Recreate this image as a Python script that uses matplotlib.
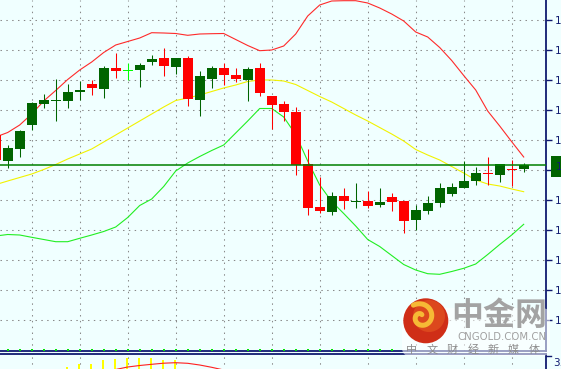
import matplotlib
matplotlib.use("Agg")
import matplotlib.pyplot as plt
import numpy as np
from matplotlib.patches import Rectangle, Circle, FancyBboxPatch
from matplotlib.transforms import blended_transform_factory

# Velas (índice -1 .. 43)
idx = np.arange(-1, 44)
opens = [1835, 1809.3, 1821.3, 1845.3, 1866.3, 1869, 1869.3, 1878, 1885.7, 1881.3,
         1902, 1899.3, 1900.3, 1908.3, 1912, 1903, 1912, 1870.3, 1891.3, 1902,
         1895, 1890, 1902, 1874, 1866.3, 1858, 1806, 1763, 1758.3, 1774,
         1768.2, 1769, 1765.3, 1773, 1769, 1750, 1759, 1767.3, 1776.3, 1782.3,
         1789.3, 1796, 1795.3, 1800, 1800.7]
closes = [1810, 1822, 1839.3, 1867.3, 1870, 1869.7, 1878, 1880, 1882.3, 1902,
          1899.3, 1899.3, 1905, 1911, 1904.3, 1912, 1871.3, 1894, 1902, 1895.3,
          1891.3, 1901, 1877.3, 1865.3, 1857.7, 1805.3, 1762.3, 1759.3, 1774, 1769,
          1768.7, 1764.3, 1768, 1768, 1749, 1760, 1767, 1782, 1783, 1789,
          1797, 1795.6, 1806, 1799.6, 1804.7]
highs = [1837, 1825, 1840, 1868.3, 1876, 1891, 1885.7, 1889.3, 1889.7, 1904,
         1917.3, 1907.3, 1906.7, 1915, 1922, 1912, 1914, 1898.7, 1904, 1907.3,
         1902, 1903, 1906.7, 1874, 1869, 1863, 1821, 1793.3, 1778, 1782,
         1787, 1779.3, 1782, 1777.3, 1769, 1764.7, 1774, 1787.3, 1787.3, 1809.3,
         1802.7, 1813, 1806, 1810, 1807.3]
lows = [1808, 1801.7, 1813.3, 1840, 1862, 1849.3, 1862, 1869.7, 1875, 1872.3,
        1892.3, 1889.7, 1883.3, 1905, 1894.3, 1896.3, 1864.3, 1854.3, 1882.3, 1884.7,
        1888.3, 1869, 1874.3, 1841.3, 1849, 1795, 1755, 1757.3, 1755, 1761,
        1762, 1761.7, 1763.3, 1759, 1737.3, 1740, 1756.3, 1763.3, 1774.3, 1782.3,
        1785.3, 1785.3, 1788.3, 1784, 1798]

# Bandas de Bollinger
upper = [1833, 1837.5, 1845, 1856, 1869, 1879.5, 1890.5, 1900, 1908, 1917.5,
         1925, 1928.5, 1932, 1937.3, 1937, 1936.5, 1934.7, 1936, 1936.3, 1936.5,
         1930.5, 1924.5, 1919.3, 1920, 1924, 1936, 1954, 1965, 1969, 1969.3,
         1969.3, 1967, 1962, 1956, 1949, 1938, 1933, 1922.5, 1909.5, 1894.5,
         1880, 1859, 1844, 1828.3, 1813]
middle = [1785.4, 1789, 1792.5, 1796, 1800.5, 1805.5, 1811, 1816, 1821, 1828,
          1835, 1842, 1849, 1856, 1863, 1869.5, 1872, 1875, 1878.5, 1882,
          1885, 1888.5, 1890, 1890, 1889, 1885.5, 1879.5, 1873.5, 1868, 1861.5,
          1855, 1849, 1842.5, 1836, 1829, 1820.5, 1815, 1810, 1803.5, 1797,
          1790, 1786, 1784, 1781, 1778.3]
lower = [1734, 1735.5, 1735, 1732.7, 1730.5, 1728.3, 1728.3, 1731.7, 1735, 1738.5,
         1743, 1752.5, 1764.5, 1771, 1783.5, 1799, 1807, 1813.5, 1819.5, 1825,
         1837, 1849, 1861.5, 1861.5, 1853, 1835.5, 1809, 1785, 1768.5, 1756.5,
         1744, 1730.5, 1723.5, 1714.5, 1705.5, 1700, 1696.3, 1695.7, 1698.5, 1701.7,
         1706, 1715.5, 1725.5, 1735, 1745.7]

price_ticks = [1650, 1680, 1710, 1740, 1770, 1800, 1830, 1860, 1890, 1920, 1950]
# la etiqueta de 1800 queda tapada por el recuadro del precio actual
price_labels = ["1650.00", "1680.00", "1710.00", "1740.00", "1770.00", "",
                "1830.00", "1860.00", "1890.00", "1920.00", "1950.00"]
time_grid = [2, 6, 10, 14, 18, 22, 26, 30, 34, 38, 42]
dot_idx = np.arange(0, 33)

# Indicador inferior
osc_idx = np.arange(5, 15)
osc_bars = [39.3, 41.7, 42, 46, 47.3, 48.3, 48.3, 48.3, 46.3, 46.3]
sig_idx = np.arange(8, 20)
osc_signal = [34, 36.5, 39, 40.5, 41.7, 42.8, 43.3, 42.7, 41, 38.7, 36, 33]

BG = "#f0ffff"
NAVY = "#101a70"
UP = "#006400"
DOWN = "#ff0000"

fig = plt.figure(figsize=(5.61, 3.69), dpi=100)
fig.patch.set_facecolor(BG)

W = 561.0
H = 369.0
xlim = ((0 - 7.7) / 12, (546 - 7.7) / 12)

ax = fig.add_axes([0, 18 / H, 546 / W, 351 / H])
ax.set_facecolor(BG)
ax.set_xlim(*xlim)
ax.set_ylim(1619, 1970)

grid_style = dict(color="#8a8a8a", linestyle=(0, (1.4, 4.2)), linewidth=0.75)
ax.set_yticks(price_ticks)
ax.set_yticklabels(price_labels)
ax.set_xticks(time_grid)
ax.grid(True, **grid_style)
ax.set_axisbelow(True)
ax.yaxis.tick_right()
ax.tick_params(axis="y", colors=NAVY, length=4, width=1, pad=2.3, labelsize=7.5)
ax.tick_params(axis="x", length=0, labelbottom=False)
for s in ["top", "left"]:
    ax.spines[s].set_visible(False)
ax.spines["right"].set_color(NAVY)
ax.spines["right"].set_linewidth(1.3)
ax.spines["bottom"].set_color(NAVY)
ax.spines["bottom"].set_linewidth(1.3)

# Bandas
ax.plot(idx, upper, color="#ff2a2a", lw=0.8, zorder=2)
ax.plot(idx, middle, color="#f2f200", lw=0.8, zorder=2)
ax.plot(idx, lower, color="#22ee22", lw=0.8, zorder=2)

# Velas
o = np.array(opens)
c = np.array(closes)
colors = np.where(c > o, UP, np.where(c < o, DOWN, "#00ff00"))
body_low = np.minimum(o, c)
body_h = np.maximum(np.abs(c - o), 1.2)
ax.vlines(idx, lows, highs, colors=colors, lw=0.75, zorder=3)
ax.bar(idx, body_h, bottom=body_low, width=10 / 12, color=colors, linewidth=0, zorder=4)

# Puntos verdes
ax.scatter(dot_idx, np.full(len(dot_idx), 1620.5), marker="s", s=2.2,
           color="#00e000", linewidths=0, zorder=3)

# Línea de precio actual
ax.axhline(closes[-1], color="#008000", lw=1.1, zorder=5)
tr = blended_transform_factory(fig.transFigure, ax.transData)
ax.add_patch(Rectangle((551 / W, closes[-1] - 11.4), 12 / W, 20.5, transform=tr,
                       facecolor="#006400", edgecolor="none", clip_on=False, zorder=6))
ax.text(556 / W, closes[-1] - 1.4, f"{closes[-1]:.2f}", transform=tr, color=NAVY,
        fontsize=7.5, va="center", ha="left", clip_on=False, zorder=7)

# Panel inferior
ax2 = fig.add_axes([0, 1 - 406 / H, 546 / W, 52 / H])
ax2.set_facecolor(BG)
ax2.set_xlim(*xlim)
ax2.set_ylim(0, 52)
ax2.set_xticks(time_grid)
ax2.set_yticks([])
ax2.grid(True, axis="x", **grid_style)
ax2.set_axisbelow(True)
ax2.tick_params(axis="x", length=0, labelbottom=False)
for s in ["bottom", "left"]:
    ax2.spines[s].set_visible(False)
for s in ["top", "right"]:
    ax2.spines[s].set_color(NAVY)
    ax2.spines[s].set_linewidth(1.3)
ax2.bar(osc_idx - 0.08, osc_bars, width=2.2 / 12, color="#ffff00", linewidth=0)
ax2.plot(sig_idx, osc_signal, color="#ff2020", lw=0.8)
fig.add_artist(plt.Line2D([546 / W, 551 / W], [1 - 355.7 / H] * 2, color=NAVY, lw=1))
fig.text(553 / W, 1 - 363 / H, "3.00", color=NAVY, fontsize=7.5, va="center")

# Marca de agua
ov = fig.add_axes([0, 0, 1, 1], zorder=10)
ov.set_xlim(0, W)
ov.set_ylim(H, 0)
ov.axis("off")
ov.patch.set_alpha(0)
ov.add_patch(FancyBboxPatch((402, 308), 148, 48, boxstyle="round,pad=0,rounding_size=8",
                            facecolor="white", edgecolor="none", alpha=0.55))
ov.add_patch(Circle((425.8, 320.8), 22.5, facecolor="#cf2e17", edgecolor="none"))
ov.add_patch(Circle((429, 316), 16, facecolor="#e55a22", edgecolor="none", alpha=0.6))
t = np.linspace(0, 2.3 * np.pi, 80)
r = 2.5 + 1.6 * t
ov.plot(421 + r * np.cos(t + 1.2), 317 - r * np.sin(t + 1.2), color="#f6b935",
        lw=3.6, solid_capstyle="round")
cjk = ["Noto Sans CJK SC", "DejaVu Sans"]
ov.text(451, 316, "中金网", fontsize=23, fontweight="bold", color="#a3a3a3",
        family=cjk, va="center", ha="left")
ov.text(457, 337, "CNGOLD.COM.CN", fontsize=7.3, color="#a0a0a0", va="center", ha="left")
for k, ch in enumerate("中文财经新媒体"):
    ov.text(412 + 20.3 * k, 350, ch, fontsize=8, color="#8c8c8c", family=cjk,
            va="center", ha="center")

fig.savefig("out.png", dpi=100, facecolor=BG)
